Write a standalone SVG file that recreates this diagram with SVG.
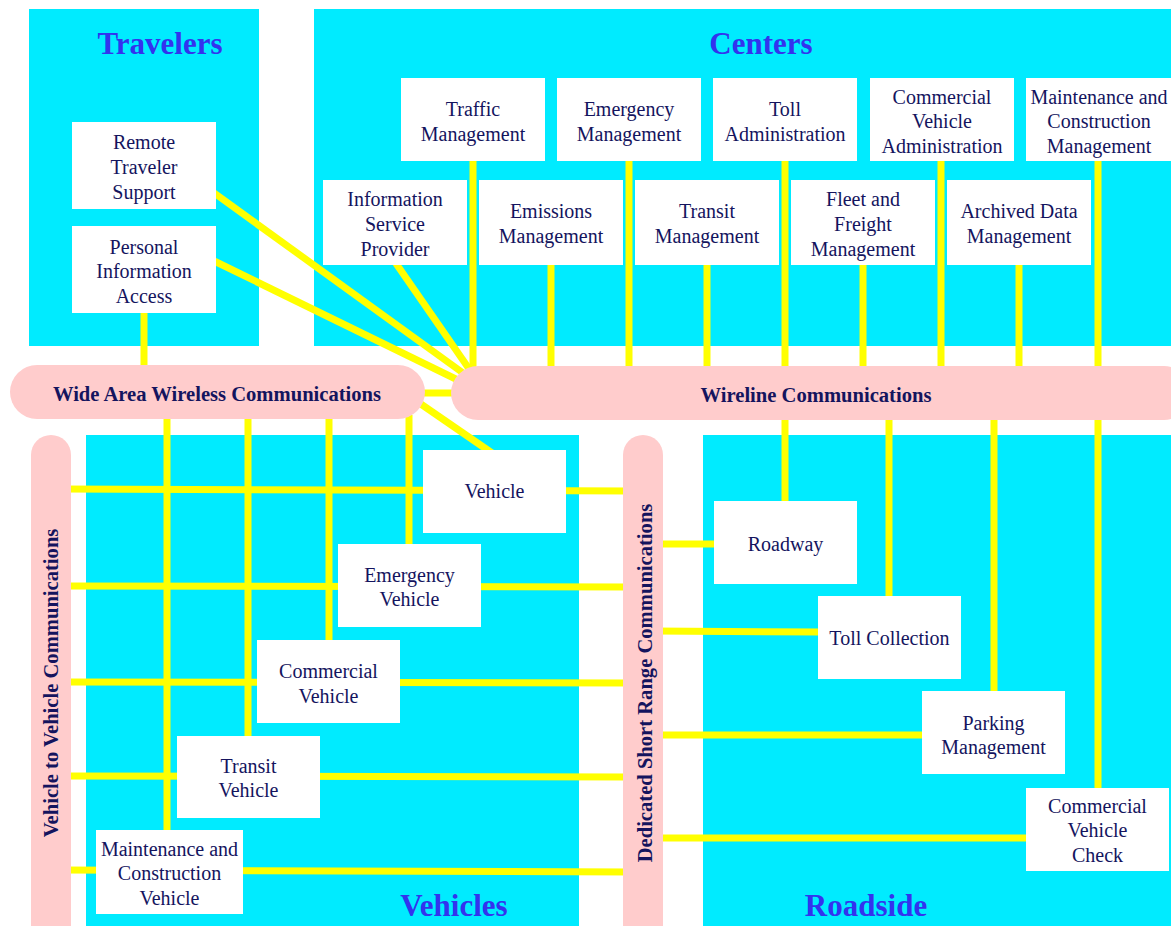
<svg xmlns="http://www.w3.org/2000/svg" width="1171" height="926" viewBox="0 0 1171 926">
<style>
.panel{fill:#00ebff}
.node rect{fill:#ffffff}
.node text,.lbl{font-family:"Liberation Serif","Times New Roman",serif;font-size:20px;fill:#14145e;text-anchor:middle}
.title{font-family:"Liberation Serif","Times New Roman",serif;font-size:31px;font-weight:bold;fill:#3333ee;text-anchor:middle}
.bus{fill:#ffcccc}
.buslbl{font-family:"Liberation Serif","Times New Roman",serif;font-size:20.6px;font-weight:bold;fill:#14145e;text-anchor:middle}
#connectors line{stroke:#ffff00;stroke-width:7}
</style>
<rect width="1171" height="926" fill="#ffffff"/>
<g id="panels">
<rect class="panel" x="29" y="9" width="230" height="337"/>
<rect class="panel" x="314" y="9" width="857" height="337"/>
<rect class="panel" x="86" y="435" width="493" height="491"/>
<rect class="panel" x="703" y="435" width="468" height="491"/>
<text class="title" x="160" y="54">Travelers</text>
<text class="title" x="761" y="54">Centers</text>
<text class="title" x="454" y="916">Vehicles</text>
<text class="title" x="866" y="916">Roadside</text>
</g>
<g id="connectors">
<line x1="473" y1="160" x2="473" y2="370"/>
<line x1="551" y1="264" x2="551" y2="370"/>
<line x1="629" y1="160" x2="629" y2="370"/>
<line x1="707" y1="264" x2="707" y2="370"/>
<line x1="785" y1="160" x2="785" y2="502"/>
<line x1="863" y1="264" x2="863" y2="370"/>
<line x1="941" y1="160" x2="941" y2="370"/>
<line x1="1019" y1="264" x2="1019" y2="370"/>
<line x1="1098" y1="160" x2="1098" y2="790"/>
<line x1="889" y1="415" x2="889" y2="598"/>
<line x1="994" y1="415" x2="994" y2="693"/>
<line x1="144" y1="312" x2="144" y2="370"/>
<line x1="210" y1="190" x2="470" y2="378"/>
<line x1="210" y1="259" x2="466" y2="384"/>
<line x1="395" y1="262" x2="474" y2="376"/>
<line x1="415" y1="400" x2="492" y2="453"/>
<line x1="415" y1="393" x2="460" y2="393"/>
<line x1="167" y1="415" x2="167" y2="832"/>
<line x1="248" y1="415" x2="248" y2="738"/>
<line x1="329" y1="415" x2="329" y2="642"/>
<line x1="409" y1="415" x2="409" y2="546"/>
<line x1="62" y1="489" x2="630" y2="491"/>
<line x1="62" y1="586" x2="630" y2="587"/>
<line x1="62" y1="682" x2="630" y2="683"/>
<line x1="62" y1="776" x2="630" y2="777"/>
<line x1="62" y1="870" x2="630" y2="872"/>
<line x1="655" y1="544" x2="716" y2="544"/>
<line x1="655" y1="631" x2="820" y2="632"/>
<line x1="655" y1="735" x2="924" y2="735"/>
<line x1="655" y1="838" x2="1028" y2="838"/>
</g>
<g id="buses">
<g id="waw"><rect class="bus" x="10" y="365" width="415" height="54" rx="27"/><text class="buslbl" x="217" y="401">Wide Area Wireless Communications</text></g>
<g id="wireline"><rect class="bus" x="451" y="366" width="740" height="54" rx="27"/><text class="buslbl" x="816" y="402">Wireline Communications</text></g>
<g id="v2v"><rect class="bus" x="31" y="435" width="40" height="520" rx="20"/><text class="buslbl" transform="translate(58,683) rotate(-90)">Vehicle to Vehicle Communications</text></g>
<g id="dsrc"><rect class="bus" x="623" y="435" width="40" height="520" rx="20"/><text class="buslbl" transform="translate(652,683) rotate(-90)">Dedicated Short Range Communications</text></g>
</g>
<g id="rts" class="node"><rect x="72" y="122" width="144" height="87"/><text x="144" y="149">Remote</text><text x="144" y="174">Traveler</text><text x="144" y="199">Support</text></g>
<g id="pia" class="node"><rect x="72" y="226" width="144" height="87"/><text x="144" y="254">Personal</text><text x="144" y="278">Information</text><text x="144" y="303">Access</text></g>
<g id="tm" class="node"><rect x="401" y="78" width="144" height="83"/><text x="473" y="116">Traffic</text><text x="473" y="141">Management</text></g>
<g id="em" class="node"><rect x="557" y="78" width="144" height="83"/><text x="629" y="116">Emergency</text><text x="629" y="141">Management</text></g>
<g id="ta" class="node"><rect x="713" y="78" width="144" height="83"/><text x="785" y="116">Toll</text><text x="785" y="141">Administration</text></g>
<g id="cva" class="node"><rect x="870" y="78" width="144" height="83"/><text x="942" y="104">Commercial</text><text x="942" y="128">Vehicle</text><text x="942" y="153">Administration</text></g>
<g id="mcm" class="node"><rect x="1026" y="78" width="145" height="83"/><text x="1099" y="104">Maintenance and</text><text x="1099" y="128">Construction</text><text x="1099" y="153">Management</text></g>
<g id="isp" class="node"><rect x="323" y="180" width="144" height="85"/><text x="395" y="206">Information</text><text x="395" y="231">Service</text><text x="395" y="256">Provider</text></g>
<g id="emis" class="node"><rect x="479" y="180" width="144" height="85"/><text x="551" y="218">Emissions</text><text x="551" y="243">Management</text></g>
<g id="trm" class="node"><rect x="635" y="180" width="144" height="85"/><text x="707" y="218">Transit</text><text x="707" y="243">Management</text></g>
<g id="ffm" class="node"><rect x="791" y="180" width="144" height="85"/><text x="863" y="206">Fleet and</text><text x="863" y="231">Freight</text><text x="863" y="256">Management</text></g>
<g id="adm" class="node"><rect x="947" y="180" width="144" height="85"/><text x="1019" y="218">Archived Data</text><text x="1019" y="243">Management</text></g>
<g id="veh" class="node"><rect x="423" y="450" width="143" height="83"/><text x="494.5" y="498">Vehicle</text></g>
<g id="ev" class="node"><rect x="338" y="544" width="143" height="83"/><text x="409.5" y="582">Emergency</text><text x="409.5" y="606">Vehicle</text></g>
<g id="cv" class="node"><rect x="257" y="640" width="143" height="83"/><text x="328.5" y="678">Commercial</text><text x="328.5" y="703">Vehicle</text></g>
<g id="tv" class="node"><rect x="177" y="736" width="143" height="82"/><text x="248.5" y="773">Transit</text><text x="248.5" y="797">Vehicle</text></g>
<g id="mcv" class="node"><rect x="96" y="830" width="147" height="84"/><text x="169.5" y="856">Maintenance and</text><text x="169.5" y="880">Construction</text><text x="169.5" y="905">Vehicle</text></g>
<g id="rw" class="node"><rect x="714" y="501" width="143" height="83"/><text x="785.5" y="551">Roadway</text></g>
<g id="tc" class="node"><rect x="818" y="596" width="143" height="83"/><text x="889.5" y="645">Toll Collection</text></g>
<g id="pm" class="node"><rect x="922" y="691" width="143" height="83"/><text x="993.5" y="730">Parking</text><text x="993.5" y="754">Management</text></g>
<g id="cvc" class="node"><rect x="1026" y="788" width="143" height="83"/><text x="1097.5" y="813">Commercial</text><text x="1097.5" y="837">Vehicle</text><text x="1097.5" y="862">Check</text></g>
</svg>
